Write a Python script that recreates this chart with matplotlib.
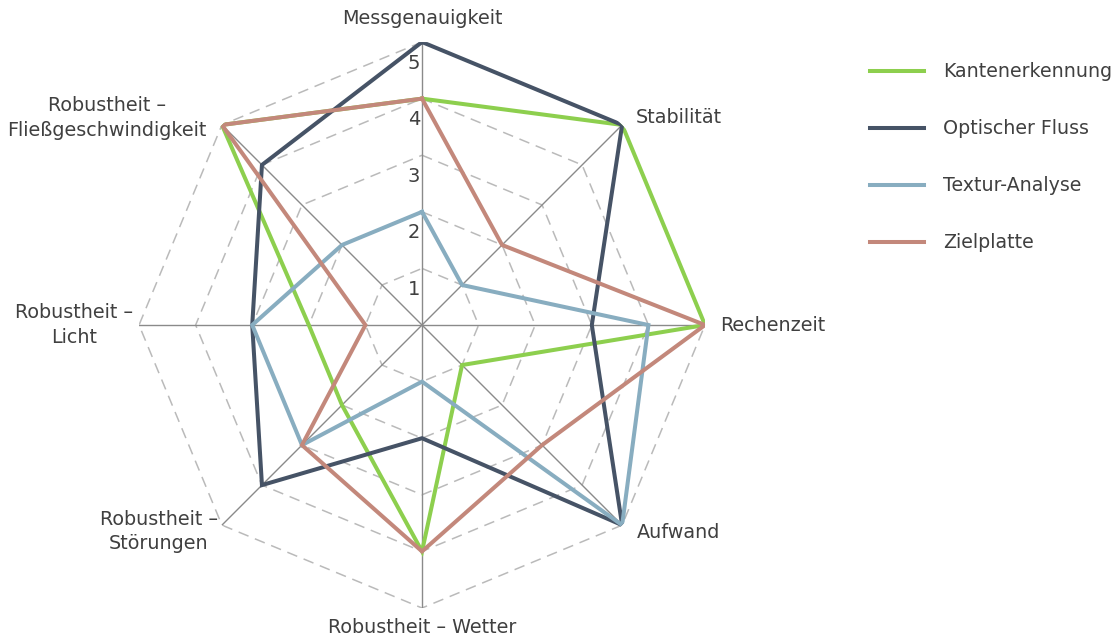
import numpy as np
import matplotlib
matplotlib.use("Agg")
from matplotlib import pyplot as plt

plt.rcParams["font.family"] = ["DejaVu Sans"]

kategorien = ["Messgenauigkeit", "Stabilität", "Rechenzeit", "Aufwand",
              "Robustheit – Wetter", "Robustheit –\nStörungen",
              "Robustheit –\nLicht", "Robustheit –\nFließgeschwindigkeit"]

kantenerkennung = [4, 5, 5, 1, 4, 2, 2, 5]
optischer_fluss = [5, 5, 3, 5, 2, 4, 3, 4]
textur_analyse = [2, 1, 4, 5, 1, 3, 3, 2]
zielplatte = [4, 2, 5, 3, 4, 3, 1, 5]

ringe = [1, 2, 3, 4, 5]

serien = [("Kantenerkennung", kantenerkennung, "#8dcf4e"),
          ("Optischer Fluss", optischer_fluss, "#465366"),
          ("Textur-Analyse", textur_analyse, "#88adc0"),
          ("Zielplatte", zielplatte, "#c3887b")]

n = len(kategorien)
winkel = np.linspace(0, 2 * np.pi, n, endpoint=False)
winkel_zu = np.append(winkel, winkel[0])

fig = plt.figure(figsize=(11.15, 6.35), dpi=100)
ax = fig.add_axes([0.1247, 0.0425, 0.5076, 0.8913], projection="polar")
ax.set_theta_zero_location("N")
ax.set_theta_direction(-1)
ax.set_ylim(0, 5)
ax.grid(False)
ax.spines["polar"].set_visible(False)
ax.set_xticks([])
ax.set_yticks([])

# Achteck-Gitter gestrichelt
for r in ringe:
    ax.plot(winkel_zu, [r] * (n + 1), color="#bababa", lw=1.1,
            ls=(0, (7, 4.5)), zorder=1)
# Speichen
for w in winkel:
    ax.plot([w, w], [0, 5], color="#8a8a8a", lw=1.0, zorder=1)

for name, werte, farbe in serien:
    ax.plot(winkel_zu, werte + werte[:1], color=farbe, lw=2.9,
            label=name, zorder=3, solid_joinstyle="miter")

# Skalenbeschriftung an der oberen Speiche
for r in ringe:
    ax.annotate(str(r), xy=(0, r), xytext=(-8, -21), textcoords="offset pixels",
                ha="center", va="center", fontsize=14, color="#404040")

# Kategorien
versatz = [((0, 24), "center"), ((14, 7), "left"), ((15, 0), "left"),
           ((15, -7), "left"), ((0, -19), "center"), ((-4, -6), "right"),
           ((-6, 0), "right"), ((-15, 7), "right")]
for w, text, (off, ha) in zip(winkel, kategorien, versatz):
    ax.annotate(text, xy=(w, 5), xytext=off, textcoords="offset pixels",
                ha=ha, va="center", multialignment="center",
                fontsize=13.8, color="#404040", linespacing=1.35,
                annotation_clip=False)

fig.legend(loc="upper left", bbox_to_anchor=(0.7645, 0.929), frameon=False,
           fontsize=13.7, handlelength=2.85, handletextpad=1.0,
           labelspacing=2.0, labelcolor="#404040")

fig.savefig("out.png", dpi=100)
